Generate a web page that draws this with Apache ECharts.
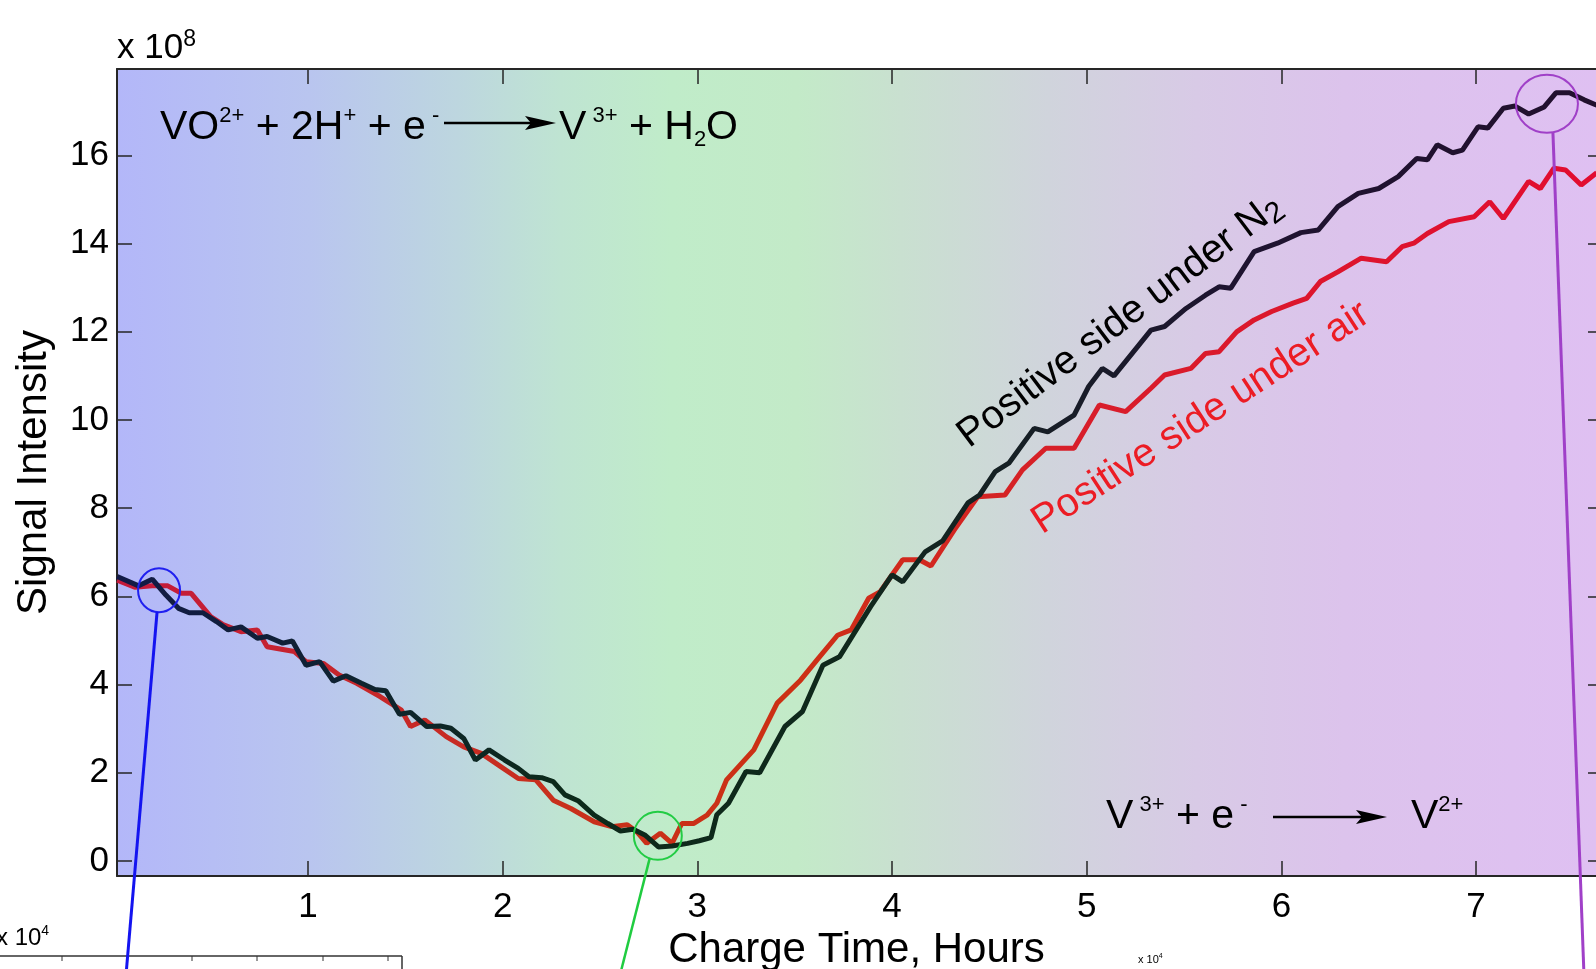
<!DOCTYPE html>
<html>
<head>
<meta charset="utf-8">
<script src="https://cdn.jsdelivr.net/npm/echarts@6/dist/echarts.min.js"></script>
<style>
  html, body { margin: 0; padding: 0; background: #fff; }
  #chart { width: 1596px; height: 969px; }
</style>
</head>
<body>
<div id="chart"></div>
<script>
// charge time (hours) vs signal intensity (x 10^8)
const underN2 = [
  [0.02, 6.45], [0.13, 6.24], [0.20, 6.39], [0.27, 6.03], [0.335, 5.73], [0.39, 5.63], [0.46, 5.63],
  [0.53, 5.43], [0.59, 5.24], [0.656, 5.31], [0.74, 5.05], [0.79, 5.09], [0.87, 4.94], [0.92, 4.99],
  [0.99, 4.44], [1.06, 4.52], [1.13, 4.08], [1.195, 4.20], [1.275, 4.03], [1.344, 3.89], [1.40, 3.86],
  [1.47, 3.33], [1.527, 3.37], [1.61, 3.05], [1.68, 3.06], [1.734, 3.01], [1.80, 2.78], [1.86, 2.29],
  [1.93, 2.52], [2.01, 2.29], [2.08, 2.10], [2.135, 1.91], [2.20, 1.89], [2.26, 1.80], [2.32, 1.50],
  [2.39, 1.36], [2.47, 1.04], [2.54, 0.85], [2.605, 0.68], [2.67, 0.72], [2.73, 0.59], [2.80, 0.32],
  [2.87, 0.34], [2.95, 0.40], [3.01, 0.46], [3.07, 0.53], [3.10, 1.05], [3.16, 1.31], [3.25, 2.03],
  [3.32, 2.00], [3.45, 3.05], [3.54, 3.39], [3.645, 4.44], [3.73, 4.63], [3.89, 5.77], [4.00, 6.49],
  [4.055, 6.33], [4.17, 7.01], [4.26, 7.26], [4.39, 8.12], [4.45, 8.30], [4.53, 8.83], [4.60, 9.02],
  [4.73, 9.81], [4.80, 9.73], [4.935, 10.11], [5.01, 10.76], [5.08, 11.17], [5.14, 11.00], [5.33, 12.04],
  [5.40, 12.12], [5.51, 12.53], [5.61, 12.83], [5.68, 13.02], [5.74, 12.99], [5.86, 13.82], [5.98, 14.01],
  [6.10, 14.25], [6.19, 14.31], [6.29, 14.84], [6.395, 15.14], [6.50, 15.25], [6.60, 15.52], [6.695, 15.93],
  [6.75, 15.90], [6.80, 16.24], [6.88, 16.06], [6.93, 16.12], [7.01, 16.65], [7.06, 16.62], [7.14, 17.07],
  [7.20, 17.12], [7.27, 16.94], [7.35, 17.10], [7.41, 17.42], [7.48, 17.42], [7.555, 17.26], [7.62, 17.14]
];
const underAir = [
  [0.02, 6.37], [0.11, 6.21], [0.20, 6.24], [0.28, 6.24], [0.35, 6.07], [0.40, 6.07], [0.50, 5.54],
  [0.56, 5.37], [0.656, 5.20], [0.74, 5.24], [0.79, 4.86], [0.93, 4.75], [0.99, 4.52], [1.08, 4.48],
  [1.16, 4.22], [1.25, 4.03], [1.37, 3.73], [1.48, 3.42], [1.527, 3.05], [1.60, 3.20], [1.71, 2.82],
  [1.80, 2.59], [1.89, 2.44], [1.99, 2.14], [2.08, 1.87], [2.17, 1.84], [2.26, 1.38], [2.35, 1.19],
  [2.47, 0.89], [2.56, 0.78], [2.64, 0.82], [2.69, 0.66], [2.74, 0.40], [2.81, 0.63], [2.87, 0.40],
  [2.92, 0.85], [2.98, 0.85], [3.05, 1.04], [3.10, 1.31], [3.15, 1.84], [3.29, 2.52], [3.41, 3.58],
  [3.53, 4.10], [3.615, 4.56], [3.72, 5.12], [3.79, 5.24], [3.88, 5.96], [3.94, 6.11], [4.055, 6.83],
  [4.14, 6.83], [4.20, 6.69], [4.32, 7.51], [4.44, 8.26], [4.58, 8.30], [4.67, 8.87], [4.79, 9.36],
  [4.935, 9.36], [5.065, 10.34], [5.20, 10.19], [5.33, 10.72], [5.40, 11.02], [5.535, 11.17], [5.61, 11.51],
  [5.68, 11.55], [5.77, 12.00], [5.86, 12.27], [5.95, 12.46], [6.06, 12.65], [6.13, 12.76], [6.20, 13.14],
  [6.29, 13.36], [6.41, 13.67], [6.54, 13.59], [6.62, 13.93], [6.68, 14.01], [6.75, 14.23], [6.86, 14.50],
  [6.99, 14.61], [7.07, 14.95], [7.14, 14.57], [7.27, 15.41], [7.33, 15.25], [7.40, 15.71], [7.46, 15.67],
  [7.54, 15.33], [7.62, 15.61]
];
const xTicks = [1, 2, 3, 4, 5, 6, 7];
const yTicks = [0, 2, 4, 6, 8, 10, 12, 14, 16];
const xRange = [0.019, 7.616];
const yRange = [-0.34, 17.96];

// circled points (hours, intensity) that lead to the insets below the plot
const markBlue = [0.235, 6.14];
const markGreen = [2.797, 0.57];
const markPurple = [7.364, 17.17];

const FONT = '"Liberation Sans", Arial, sans-serif';
const axisColor = '#262626';

const chart = echarts.init(document.getElementById('chart'));

const bgGradient = new echarts.graphic.LinearGradient(0, 0, 1, 0, [
  { offset: 0, color: '#b3b7f9' },
  { offset: 0.13, color: '#b9c5ef' },
  { offset: 0.23, color: '#bdd6df' },
  { offset: 0.30, color: '#bfe4d2' },
  { offset: 0.375, color: '#c0ecc9' },
  { offset: 0.46, color: '#c3eac8' },
  { offset: 0.53, color: '#c9e0d0' },
  { offset: 0.63, color: '#d0d4dc' },
  { offset: 0.73, color: '#d8cae6' },
  { offset: 0.83, color: '#dcc3ec' },
  { offset: 1, color: '#dfc0f2' }
]);

function axisPair(isX, range, ticks, extra) {
  const base = {
    type: 'value',
    min: range[0],
    max: range[1],
    splitLine: { show: false },
    axisLine: { show: true, onZero: false, lineStyle: { color: axisColor, width: 2 } },
    axisTick: { show: true, inside: true, length: 15, customValues: ticks, lineStyle: { color: axisColor, width: 1.5 } }
  };
  const main = Object.assign({}, base, extra, {
    position: isX ? 'bottom' : 'left',
    axisLabel: {
      customValues: ticks, color: '#000', fontSize: 35, fontFamily: FONT, margin: isX ? 14 : 8
    }
  });
  const mirror = Object.assign({}, base, {
    position: isX ? 'top' : 'right',
    axisLabel: { show: false }
  });
  if (!isX) {
    // the right frame edge is just past the crop, only the tick stubs show
    mirror.axisLine = { show: false, onZero: false };
    mirror.axisTick = Object.assign({}, base.axisTick, { length: 8 });
  }
  return [main, mirror];
}

const option = {
  animation: false,
  grid: {
    left: 117, top: 69, right: 0, bottom: 93,
    outerBoundsMode: 'none', containLabel: false,
    show: true, backgroundColor: bgGradient, borderWidth: 0
  },
  xAxis: axisPair(true, xRange, xTicks, {
    name: 'Charge Time, Hours', nameLocation: 'middle', nameGap: 47,
    nameTextStyle: { fontSize: 42, color: '#000', fontFamily: FONT }
  }),
  yAxis: axisPair(false, yRange, yTicks, {
    name: 'Signal Intensity', nameLocation: 'middle', nameGap: 62,
    nameTextStyle: { fontSize: 42, color: '#000', fontFamily: FONT }
  }),
  series: [
    {
      name: 'Positive side under air', type: 'line', data: underAir,
      showSymbol: false, symbol: 'none', xAxisIndex: 0, yAxisIndex: 0,
      lineStyle: {
        width: 5,
        color: new echarts.graphic.LinearGradient(0, 0, 1, 0, [
          { offset: 0, color: '#c41a3c' },
          { offset: 0.3, color: '#c8301c' },
          { offset: 0.45, color: '#cc3014' },
          { offset: 0.65, color: '#d81e2a' },
          { offset: 1, color: '#e20c30' }
        ])
      }
    },
    {
      name: 'Positive side under N2', type: 'line', data: underN2,
      showSymbol: false, symbol: 'none', xAxisIndex: 0, yAxisIndex: 0,
      lineStyle: {
        width: 5,
        color: new echarts.graphic.LinearGradient(0, 0, 1, 0, [
          { offset: 0, color: '#121a48' },
          { offset: 0.3, color: '#0c2a1a' },
          { offset: 0.5, color: '#10281c' },
          { offset: 0.75, color: '#1e1430' },
          { offset: 1, color: '#22102e' }
        ])
      }
    }
  ]
};

chart.setOption(option);

const px = (p) => chart.convertToPixel({ xAxisIndex: 0, yAxisIndex: 0 }, p);

const rich = {
  m: { fontSize: 41, fontFamily: FONT, color: '#000', lineHeight: 46 },
  sup: { fontSize: 22, fontFamily: FONT, color: '#000', verticalAlign: 'top', lineHeight: 46 },
  sub: { fontSize: 22, fontFamily: FONT, color: '#000', verticalAlign: 'bottom', lineHeight: 40 }
};

function eq(x, y, text) {
  return { type: 'text', x: x, y: y, z: 50, style: { text: text, rich: rich, align: 'left', verticalAlign: 'middle' } };
}
function arrow(x1, x2, y) {
  return [
    { type: 'line', z: 50, shape: { x1: x1, y1: y, x2: x2 - 20, y2: y }, style: { stroke: '#000', lineWidth: 2.5 } },
    { type: 'polygon', z: 50, shape: { points: [[x2 - 31, y - 7], [x2, y], [x2 - 31, y + 7], [x2 - 25, y]] }, style: { fill: '#000' } }
  ];
}
function circle(p, rx, ry, color) {
  const c = px(p);
  return { type: 'ellipse', z: 60, shape: { cx: c[0], cy: c[1], rx: rx, ry: ry }, style: { fill: 'none', stroke: color, lineWidth: 2 } };
}
function leader(p, ry, dx, x2, color, w) {
  const c = px(p);
  return { type: 'line', z: 60, shape: { x1: c[0] + dx, y1: c[1] + ry, x2: x2, y2: 975 }, style: { stroke: color, lineWidth: w } };
}

const insetTicks = [62, 127, 192, 257, 323, 388].map(function (x) {
  return { type: 'line', z: 40, shape: { x1: x, y1: 956, x2: x, y2: 961 }, style: { stroke: '#333', lineWidth: 1 } };
});

const graphics = [
  eq(160, 128, '{m|VO}{sup|2+}{m| + 2H}{sup|+}{m| + e}{sup| -}'),
  ...arrow(444, 556, 123),
  eq(559, 128, '{m|V}{sup| 3+}{m| + H}{sub|2}{m|O}'),
  eq(1106, 817, '{m|V}{sup| 3+}{m| + e}{sup| -}'),
  ...arrow(1273, 1387, 817),
  eq(1411, 817, '{m|V}{sup|2+}'),
  {
    type: 'text', x: 117, y: 48, z: 50,
    style: { text: '{m|x 10}{sup|8}', rich: {
      m: { fontSize: 35, fontFamily: FONT, color: '#000', lineHeight: 40 },
      sup: { fontSize: 23, fontFamily: FONT, color: '#000', verticalAlign: 'top', lineHeight: 40 }
    }, align: 'left', verticalAlign: 'middle' }
  },
  {
    type: 'text', x: 1120, y: 321, z: 50, rotation: 37 * Math.PI / 180,
    style: { text: '{m|Positive side under N}{s|2}', align: 'center', verticalAlign: 'middle', rich: {
      m: { fontSize: 40, fontFamily: FONT, color: '#000', lineHeight: 46 },
      s: { fontSize: 30, fontFamily: FONT, color: '#000', verticalAlign: 'bottom', lineHeight: 38 }
    } }
  },
  {
    type: 'text', x: 1201, y: 418, z: 50, rotation: 33 * Math.PI / 180,
    style: { text: 'Positive side under air', align: 'center', verticalAlign: 'middle',
      fontSize: 40, fontFamily: FONT, fill: '#ec1c24' }
  },
  circle(markBlue, 21, 22, '#2020f0'),
  circle(markGreen, 24, 24, '#22cc44'),
  circle(markPurple, 31, 29, '#a040c8'),
  leader(markBlue, 22, -2, 126, '#1414f0', 3),
  leader(markGreen, 22, -8, 620, '#20cc40', 2.5),
  leader(markPurple, 29, 6, 1584, '#a040c8', 3),
  // pieces of the inset panels that sit below the crop
  { type: 'line', z: 40, shape: { x1: 0, y1: 956, x2: 402, y2: 956 }, style: { stroke: '#333', lineWidth: 1.5 } },
  { type: 'line', z: 40, shape: { x1: 402, y1: 956, x2: 402, y2: 975 }, style: { stroke: '#333', lineWidth: 1.5 } },
  ...insetTicks,
  {
    type: 'text', x: -4, y: 938, z: 40,
    style: { text: '{m|x 10}{sup|4}', rich: {
      m: { fontSize: 24, fontFamily: FONT, color: '#000', lineHeight: 28 },
      sup: { fontSize: 14, fontFamily: FONT, color: '#000', verticalAlign: 'top', lineHeight: 28 }
    }, align: 'left', verticalAlign: 'middle' }
  },
  {
    type: 'text', x: 1138, y: 960, z: 40,
    style: { text: '{m|x 10}{sup|4}', rich: {
      m: { fontSize: 11, fontFamily: FONT, color: '#000', lineHeight: 14 },
      sup: { fontSize: 7, fontFamily: FONT, color: '#000', verticalAlign: 'top', lineHeight: 14 }
    }, align: 'left', verticalAlign: 'middle' }
  }
];

chart.setOption({ graphic: graphics });
</script>
</body>
</html>
